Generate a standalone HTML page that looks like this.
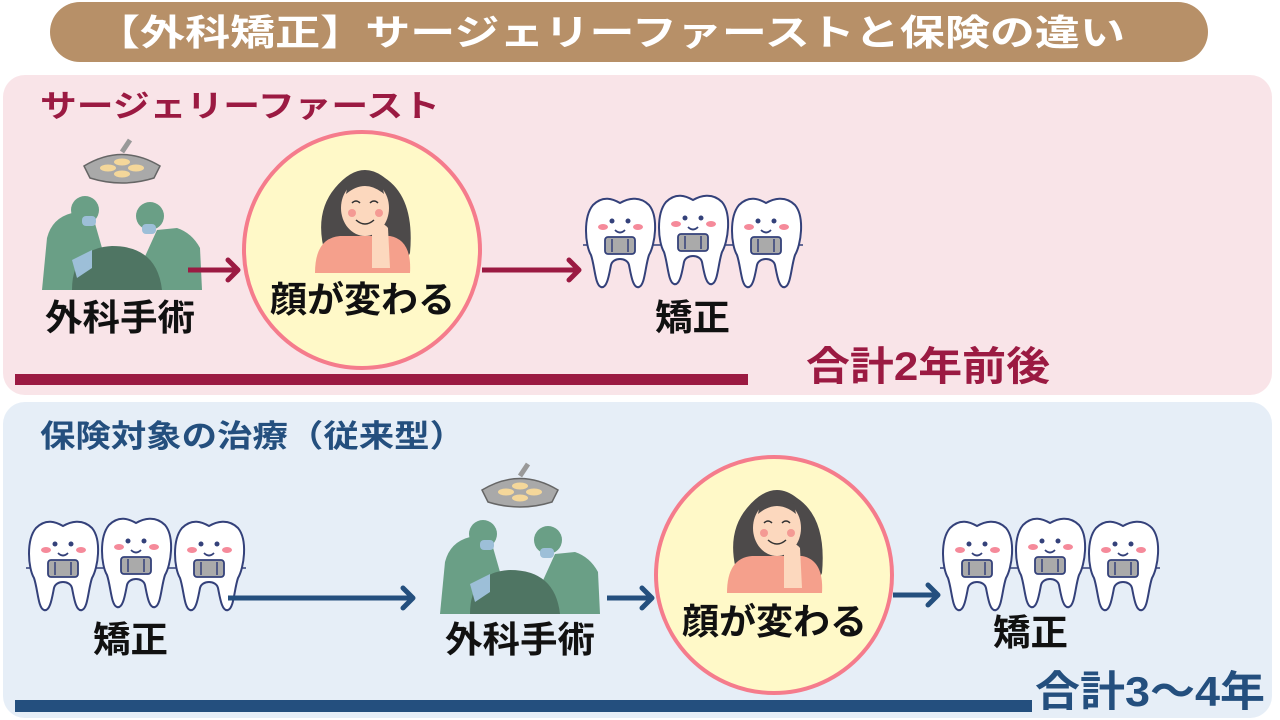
<!DOCTYPE html>
<html><head><meta charset="utf-8"><style>
html,body{margin:0;padding:0;background:#fff;}
svg{display:block;}
text{font-family:"Liberation Sans","Noto Sans CJK JP",sans-serif;font-weight:bold;}
</style></head><body>
<svg width="1280" height="720" viewBox="0 0 1280 720" xmlns="http://www.w3.org/2000/svg">
<defs>
 <g id="tooth">
  <path d="M10,10 C20,0 30,4 37,8 C44,4 56,0 66,10 C76,22 72,50 66,60 C62,72 62,90 56,92 C50,94 48,80 46,70 C44,62 30,62 28,70 C26,80 24,94 18,92 C12,90 12,72 8,60 C2,50 0,22 10,10Z" fill="#fff" stroke="#34417a" stroke-width="2"/>
  <circle cx="29" cy="26" r="2.5" fill="#34417a"/><circle cx="45" cy="26" r="2.5" fill="#34417a"/>
  <ellipse cx="20" cy="32" rx="5" ry="3" fill="#f58a9a"/><ellipse cx="55" cy="32" rx="5" ry="3" fill="#f58a9a"/>
  <path d="M32,35 Q37,40 42,35" fill="none" stroke="#34417a" stroke-width="1.8"/>
  <rect x="22" y="42" width="30" height="17" rx="3" fill="#aaa" stroke="#34417a" stroke-width="1.8"/>
  <line x1="29" y1="44" x2="29" y2="57" stroke="#34417a" stroke-width="1.5"/><line x1="45" y1="44" x2="45" y2="57" stroke="#34417a" stroke-width="1.5"/>
 </g>
 <g id="teeth">
  <line x1="0" y1="50" x2="220" y2="50" stroke="#34417a" stroke-width="1.5"/>
  <use href="#tooth" x="0" y="0"/><use href="#tooth" x="73" y="-3"/><use href="#tooth" x="146" y="0"/>
 </g>
 <g id="surgeon">
  <path d="M42,28 Q80,5 118,28 L112,40 Q80,50 48,40Z" fill="#a9a9a9" stroke="#666" stroke-width="1.5"/>
  <ellipse cx="66" cy="30" rx="8" ry="3.5" fill="#f4d79a"/><ellipse cx="94" cy="30" rx="8" ry="3.5" fill="#f4d79a"/><ellipse cx="80" cy="24" rx="8" ry="3.5" fill="#f4d79a"/><ellipse cx="80" cy="36" rx="8" ry="3.5" fill="#f4d79a"/>
  <path d="M80,14 L88,2" stroke="#999" stroke-width="5"/>
  <path d="M0,152 L5,100 Q10,80 30,75 L50,75 L60,110 L60,152Z" fill="#6a9f86"/>
  <circle cx="43" cy="72" r="14" fill="#6a9f86"/><rect x="40" y="78" width="14" height="10" rx="4" fill="#9dbfd8"/>
  <path d="M160,152 L158,110 Q150,95 135,90 L115,92 L100,125 L110,152Z" fill="#6a9f86"/>
  <circle cx="108" cy="78" r="14" fill="#6a9f86"/><rect x="100" y="86" width="14" height="10" rx="4" fill="#9dbfd8"/>
  <path d="M30,152 Q30,110 70,108 Q115,108 120,152Z" fill="#4f7563"/>
  <path d="M30,122 L50,112 L50,130 L35,140Z" fill="#9dbfd8"/>
 </g>
 <g id="woman">
  <path d="M20,110 Q0,60 25,30 Q50,0 75,20 Q105,40 100,95 L90,115Z" fill="#4d4a4a"/>
  <ellipse cx="55" cy="50" rx="24" ry="28" fill="#fcd8be"/>
  <path d="M36,36 Q55,20 74,36 L72,26 Q55,14 38,26Z" fill="#4d4a4a"/>
  <path d="M42,45 Q46,41 50,45 M60,45 Q64,41 68,45 M46,62 Q55,70 64,62" fill="none" stroke="#333" stroke-width="1.5"/>
  <circle cx="42" cy="55" r="4" fill="#f49a94"/><circle cx="69" cy="55" r="4" fill="#f49a94"/>
  <path d="M5,115 Q5,80 30,78 L80,78 Q102,82 100,115Z" fill="#f5a08c"/>
  <path d="M62,110 L62,75 Q70,60 78,70 L80,110Z" fill="#fcd8be"/>
 </g>
 <g id="arrowhead"><path d="M-10,-10 L0,0 L-10,10" fill="none" stroke-width="5" stroke-linecap="round" stroke-linejoin="round"/></g>
</defs>

<rect x="50" y="2" width="1158" height="60" rx="30" fill="#b79068"/>
<text x="95" y="45" font-size="36" fill="#fff" textLength="1030" lengthAdjust="spacingAndGlyphs">【外科矯正】サージェリーファーストと保険の違い</text>

<rect x="3" y="75" width="1269" height="320" rx="22" fill="#f9e4e8"/>
<text x="40" y="117" font-size="31" fill="#9b1a42" textLength="400" lengthAdjust="spacingAndGlyphs">サージェリーファースト</text>
<use href="#surgeon" x="42" y="138"/>
<text x="45" y="330" font-size="36" fill="#111" textLength="150" lengthAdjust="spacingAndGlyphs">外科手術</text>
<line x1="188" y1="270" x2="236" y2="270" stroke="#9b1a42" stroke-width="5"/>
<use href="#arrowhead" x="238" y="270" stroke="#9b1a42"/>
<circle cx="362" cy="250" r="118" fill="#fff9c8" stroke="#f57c8c" stroke-width="4"/>
<use href="#woman" x="310" y="158"/>
<text x="270" y="312" font-size="36" fill="#111" textLength="185" lengthAdjust="spacingAndGlyphs">顔が変わる</text>
<line x1="482" y1="270" x2="577" y2="270" stroke="#9b1a42" stroke-width="5"/>
<use href="#arrowhead" x="579" y="270" stroke="#9b1a42"/>
<use href="#teeth" x="583" y="195"/>
<text x="655" y="330" font-size="36" fill="#111" textLength="75" lengthAdjust="spacingAndGlyphs">矯正</text>
<text x="806" y="380" font-size="40" fill="#9b1a42" textLength="244" lengthAdjust="spacingAndGlyphs">合計2年前後</text>
<rect x="15" y="374" width="733" height="11" fill="#9b1a42"/>

<rect x="3" y="402" width="1269" height="316" rx="22" fill="#e6eef7"/>
<text x="40" y="447" font-size="31" fill="#244f7e" textLength="425" lengthAdjust="spacingAndGlyphs">保険対象の治療（従来型）</text>
<use href="#teeth" x="26" y="518"/>
<text x="93" y="652" font-size="36" fill="#111" textLength="75" lengthAdjust="spacingAndGlyphs">矯正</text>
<line x1="228" y1="598" x2="411" y2="598" stroke="#244f7e" stroke-width="5"/>
<use href="#arrowhead" x="413" y="598" stroke="#244f7e"/>
<use href="#surgeon" x="440" y="462"/>
<text x="445" y="652" font-size="36" fill="#111" textLength="150" lengthAdjust="spacingAndGlyphs">外科手術</text>
<line x1="607" y1="598" x2="650" y2="598" stroke="#244f7e" stroke-width="5"/>
<use href="#arrowhead" x="652" y="598" stroke="#244f7e"/>
<circle cx="774" cy="575" r="118" fill="#fff9c8" stroke="#f57c8c" stroke-width="4"/>
<use href="#woman" x="722" y="478"/>
<text x="682" y="634" font-size="36" fill="#111" textLength="185" lengthAdjust="spacingAndGlyphs">顔が変わる</text>
<line x1="893" y1="595" x2="936" y2="595" stroke="#244f7e" stroke-width="5"/>
<use href="#arrowhead" x="938" y="595" stroke="#244f7e"/>
<use href="#teeth" x="940" y="518"/>
<text x="993" y="645" font-size="36" fill="#111" textLength="75" lengthAdjust="spacingAndGlyphs">矯正</text>
<text x="1035" y="706" font-size="42" fill="#244f7e" textLength="230" lengthAdjust="spacingAndGlyphs">合計3〜4年</text>
<rect x="15" y="700" width="1017" height="12" fill="#244f7e"/>
</svg>
</body></html>
